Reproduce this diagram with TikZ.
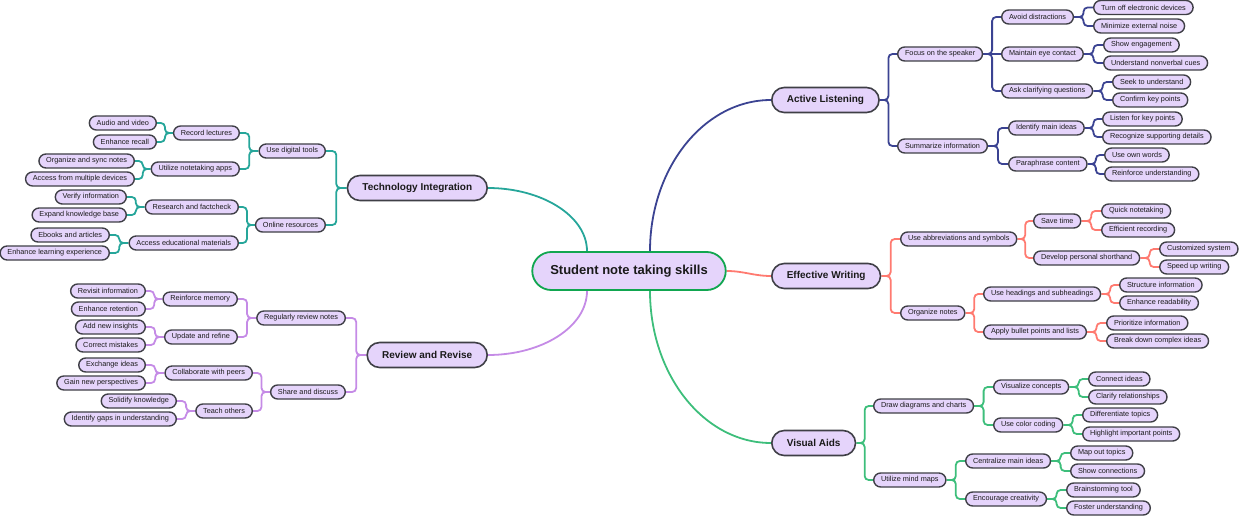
\documentclass[tikz,border=0pt]{standalone}
\usepackage{fontspec}
\setmainfont{Liberation Sans}
\usepackage{tikz}
\usepackage{xcolor}
\usetikzlibrary{calc,backgrounds}
\definecolor{lavender}{HTML}{E5D4FB}
\definecolor{rim}{HTML}{3F3F46}
\definecolor{ink}{HTML}{1A1A1A}
\definecolor{rootgreen}{HTML}{11A650}
\definecolor{navyline}{HTML}{3B4392}
\definecolor{salmon}{HTML}{FF7A70}
\definecolor{greenline}{HTML}{3DBE7B}
\definecolor{tealline}{HTML}{26A69A}
\definecolor{lilac}{HTML}{C58BE6}

\begin{document}
\begin{tikzpicture}[
  x=1pt,y=-1pt,
  rootnode/.style={rounded corners=19pt,draw=rootgreen,line width=1.8pt,fill=lavender,text=ink,font=\fontsize{13}{15}\selectfont\bfseries,minimum height=38pt,inner xsep=18pt},
  topic/.style={rounded corners=12.5pt,draw=rim,line width=1.6pt,fill=lavender,text=ink,font=\fontsize{10}{12}\selectfont\bfseries,minimum height=25pt,inner xsep=15pt},
  idea/.style={rounded corners=7pt,draw=rim,line width=1.4pt,fill=lavender,text=ink,font=\fontsize{7.3}{8}\selectfont,minimum height=14pt,inner xsep=7.3pt,inner ysep=0pt},
  rt/.style={idea,anchor=west},
  lt/.style={idea,anchor=east},
  trunk/.style={line width=1.8pt},
  elbow/.style={line width=1.8pt,rounded corners=4pt,to path={let \p1=(\tikztostart),\p2=(\tikztotarget) in -- ({0.5*\x1+0.5*\x2},\y1) -- ({0.5*\x1+0.5*\x2},\y2) -- (\tikztotarget)}}
]
\useasboundingbox (0,0) rectangle (1240,516);

\node[rootnode] (root) at (629,271) {Student note taking skills};
\node[topic,anchor=west] (listen) at (771,100) {Active Listening};
\node[topic,anchor=west] (write) at (771,276) {Effective Writing};
\node[topic,anchor=west] (visual) at (771,443) {Visual Aids};
\node[topic,anchor=east] (tech) at (488,188) {Technology Integration};
\node[topic,anchor=east] (review) at (488,355) {Review and Revise};

% Active Listening
\node[rt] (focus) at (897,54) {Focus on the speaker};
\node[rt] (summ) at (897,146) {Summarize information};
\node[rt] (avoid) at (1001,17) {Avoid distractions};
\node[rt] (eye) at (1001,54) {Maintain eye contact};
\node[rt] (ask) at (1001,91) {Ask clarifying questions};
\node[rt] (mainid) at (1008,128) {Identify main ideas};
\node[rt] (para) at (1008,164) {Paraphrase content};
\node[rt] (l1) at (1093,7.5) {Turn off electronic devices};
\node[rt] (l2) at (1093,26) {Minimize external noise};
\node[rt] (l3) at (1103,45) {Show engagement};
\node[rt] (l4) at (1103,63) {Understand nonverbal cues};
\node[rt] (l5) at (1112,82) {Seek to understand};
\node[rt] (l6) at (1112,100) {Confirm key points};
\node[rt] (l7) at (1102,119) {Listen for key points};
\node[rt] (l8) at (1102,137) {Recognize supporting details};
\node[rt] (l9) at (1104,155) {Use own words};
\node[rt] (l10) at (1104,174) {Reinforce understanding};

% Effective Writing
\node[rt] (abbr) at (900,239) {Use abbreviations and symbols};
\node[rt] (organize) at (900,313) {Organize notes};
\node[rt] (save) at (1033,221) {Save time};
\node[rt] (shorthand) at (1033,258) {Develop personal shorthand};
\node[rt] (headings) at (983,294) {Use headings and subheadings};
\node[rt] (bullets) at (983,332) {Apply bullet points and lists};
\node[rt] (w1) at (1101,211) {Quick notetaking};
\node[rt] (w2) at (1101,230) {Efficient recording};
\node[rt] (w3) at (1159,249) {Customized system};
\node[rt] (w4) at (1159,267) {Speed up writing};
\node[rt] (w5) at (1119,285) {Structure information};
\node[rt] (w6) at (1119,303) {Enhance readability};
\node[rt] (w7) at (1106,323) {Prioritize information};
\node[rt] (w8) at (1106,341) {Break down complex ideas};

% Visual Aids
\node[rt] (diagrams) at (873,406) {Draw diagrams and charts};
\node[rt] (mindmaps) at (873,480) {Utilize mind maps};
\node[rt] (concepts) at (993,387) {Visualize concepts};
\node[rt] (colorcode) at (993,425) {Use color coding};
\node[rt] (central) at (965,461) {Centralize main ideas};
\node[rt] (creative) at (965,499) {Encourage creativity};
\node[rt] (v1) at (1088,379) {Connect ideas};
\node[rt] (v2) at (1088,397) {Clarify relationships};
\node[rt] (v3) at (1082,415) {Differentiate topics};
\node[rt] (v4) at (1082,434) {Highlight important points};
\node[rt] (v5) at (1070,453) {Map out topics};
\node[rt] (v6) at (1070,471) {Show connections};
\node[rt] (v7) at (1066,490) {Brainstorming tool};
\node[rt] (v8) at (1066,508) {Foster understanding};

% Technology Integration
\node[lt] (digital) at (326,151) {Use digital tools};
\node[lt] (online) at (326,225) {Online resources};
\node[lt] (record) at (240,133) {Record lectures};
\node[lt] (apps) at (240,169) {Utilize notetaking apps};
\node[lt] (research) at (239,207) {Research and factcheck};
\node[lt] (edu) at (239,243) {Access educational materials};
\node[lt] (t1) at (157,123) {Audio and video};
\node[lt] (t2) at (157,142) {Enhance recall};
\node[lt] (t3) at (135,161) {Organize and sync notes};
\node[lt] (t4) at (135,179) {Access from multiple devices};
\node[lt] (t5) at (127,197) {Verify information};
\node[lt] (t6) at (127,215) {Expand knowledge base};
\node[lt] (t7) at (110,235) {Ebooks and articles};
\node[lt] (t8) at (110,253) {Enhance learning experience};

% Review and Revise
\node[lt] (regular) at (346,318) {Regularly review notes};
\node[lt] (share) at (346,392) {Share and discuss};
\node[lt] (memory) at (238,299) {Reinforce memory};
\node[lt] (refine) at (238,337) {Update and refine};
\node[lt] (peers) at (253,373) {Collaborate with peers};
\node[lt] (teach) at (253,411) {Teach others};
\node[lt] (r1) at (146,291) {Revisit information};
\node[lt] (r2) at (146,309) {Enhance retention};
\node[lt] (r3) at (146,327) {Add new insights};
\node[lt] (r4) at (146,345) {Correct mistakes};
\node[lt] (r5) at (146,365) {Exchange ideas};
\node[lt] (r6) at (146,383) {Gain new perspectives};
\node[lt] (r7) at (177,401) {Solidify knowledge};
\node[lt] (r8) at (177,419) {Identify gaps in understanding};

\begin{scope}[on background layer]
% root to topics
\draw[trunk,navyline] ([xshift=21pt]root.north) .. controls +(0,-83) and +(-67,0) .. (listen.west);
\draw[trunk,salmon] (root.east) to[out=0,in=180] (write.west);
\draw[trunk,greenline] ([xshift=21pt]root.south) .. controls +(0,84) and +(-67,0) .. (visual.west);
\draw[trunk,tealline] ([xshift=-42pt]root.north) .. controls +(0,-35) and +(54,0) .. (tech.east);
\draw[trunk,lilac] ([xshift=-42pt]root.south) .. controls +(0,36) and +(54,0) .. (review.east);

\draw[elbow,navyline] (listen.east) to (focus.west) (listen.east) to (summ.west);
\draw[elbow,navyline] (focus.east) to (avoid.west) (focus.east) to (ask.west);
\draw[trunk,navyline] (focus.east) -- (eye.west);
\draw[elbow,navyline] (summ.east) to (mainid.west) (summ.east) to (para.west);
\draw[elbow,navyline] (avoid.east) to (l1.west) (avoid.east) to (l2.west);
\draw[elbow,navyline] (eye.east) to (l3.west) (eye.east) to (l4.west);
\draw[elbow,navyline] (ask.east) to (l5.west) (ask.east) to (l6.west);
\draw[elbow,navyline] (mainid.east) to (l7.west) (mainid.east) to (l8.west);
\draw[elbow,navyline] (para.east) to (l9.west) (para.east) to (l10.west);

\draw[elbow,salmon] (write.east) to (abbr.west) (write.east) to (organize.west);
\draw[elbow,salmon] (abbr.east) to (save.west) (abbr.east) to (shorthand.west);
\draw[elbow,salmon] (organize.east) to (headings.west) (organize.east) to (bullets.west);
\draw[elbow,salmon] (save.east) to (w1.west) (save.east) to (w2.west);
\draw[elbow,salmon] (shorthand.east) to (w3.west) (shorthand.east) to (w4.west);
\draw[elbow,salmon] (headings.east) to (w5.west) (headings.east) to (w6.west);
\draw[elbow,salmon] (bullets.east) to (w7.west) (bullets.east) to (w8.west);

\draw[elbow,greenline] (visual.east) to (diagrams.west) (visual.east) to (mindmaps.west);
\draw[elbow,greenline] (diagrams.east) to (concepts.west) (diagrams.east) to (colorcode.west);
\draw[elbow,greenline] (mindmaps.east) to (central.west) (mindmaps.east) to (creative.west);
\draw[elbow,greenline] (concepts.east) to (v1.west) (concepts.east) to (v2.west);
\draw[elbow,greenline] (colorcode.east) to (v3.west) (colorcode.east) to (v4.west);
\draw[elbow,greenline] (central.east) to (v5.west) (central.east) to (v6.west);
\draw[elbow,greenline] (creative.east) to (v7.west) (creative.east) to (v8.west);

\draw[elbow,tealline] (tech.west) to (digital.east) (tech.west) to (online.east);
\draw[elbow,tealline] (digital.west) to (record.east) (digital.west) to (apps.east);
\draw[elbow,tealline] (online.west) to (research.east) (online.west) to (edu.east);
\draw[elbow,tealline] (record.west) to (t1.east) (record.west) to (t2.east);
\draw[elbow,tealline] (apps.west) to (t3.east) (apps.west) to (t4.east);
\draw[elbow,tealline] (research.west) to (t5.east) (research.west) to (t6.east);
\draw[elbow,tealline] (edu.west) to (t7.east) (edu.west) to (t8.east);

\draw[elbow,lilac] (review.west) to (regular.east) (review.west) to (share.east);
\draw[elbow,lilac] (regular.west) to (memory.east) (regular.west) to (refine.east);
\draw[elbow,lilac] (share.west) to (peers.east) (share.west) to (teach.east);
\draw[elbow,lilac] (memory.west) to (r1.east) (memory.west) to (r2.east);
\draw[elbow,lilac] (refine.west) to (r3.east) (refine.west) to (r4.east);
\draw[elbow,lilac] (peers.west) to (r5.east) (peers.west) to (r6.east);
\draw[elbow,lilac] (teach.west) to (r7.east) (teach.west) to (r8.east);
\end{scope}
\end{tikzpicture}
\end{document}
